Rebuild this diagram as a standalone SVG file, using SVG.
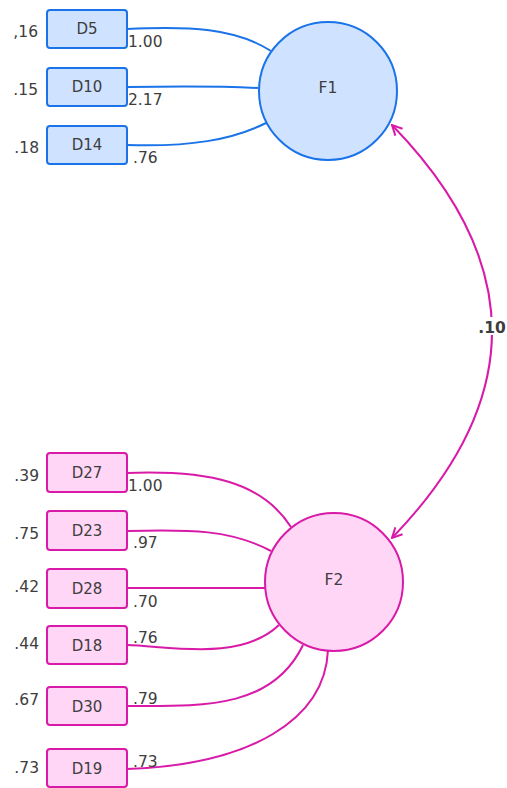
<svg xmlns="http://www.w3.org/2000/svg" width="507" height="788" viewBox="0 0 507 788">
<style>
text{font-family:"DejaVu Sans",Roboto,sans-serif;fill:#3d3d3d}
.lbl{font-size:15.5px}
.nt{font-size:15px;text-anchor:middle}
.ft{font-size:15.5px;text-anchor:middle}
.l{text-anchor:end}
.bb{fill:#cfe2ff;stroke:#1a73e8;stroke-width:2}
.pb{fill:#ffd6f5;stroke:#d91aa8;stroke-width:2}
.bc{fill:none;stroke:#1a73e8;stroke-width:2}
.pc{fill:none;stroke:#d91aa8;stroke-width:2}
</style>
<defs>
<marker id="ah" viewBox="0 0 12 12" refX="11" refY="6" markerWidth="12" markerHeight="12" markerUnits="userSpaceOnUse" orient="auto-start-reverse">
<path d="M1,1 L11,6 L1,11" fill="none" stroke="#d91aa8" stroke-width="2"/>
</marker>
</defs>
<rect width="507" height="788" fill="#fff"/>
<g id="connectors">
<path class="bc" d="M127,29 C190,26 235,28 271,51"/>
<path class="bc" d="M127,87 C180,86 220,86 258,88"/>
<path class="bc" d="M127,145 C190,147 232,140 266,123"/>
<path class="pc" d="M127,473 C210,470 262,482 291,527"/>
<path class="pc" d="M127,531 C190,529 232,530 271,551"/>
<path class="pc" d="M127,588 L265,588"/>
<path class="pc" d="M127,645 C170,646 240,662 279,625"/>
<path class="pc" d="M127,706 C200,706 272,710 303,645"/>
<path class="pc" d="M127,769 C250,765 325,720 328,650"/>
<path class="pc" d="M392,125 Q592,331 392,538" marker-start="url(#ah)" marker-end="url(#ah)"/>
<rect x="476" y="317" width="34" height="18" fill="#fff"/>
<text x="492" y="333" class="lbl" text-anchor="middle" font-weight="bold">.10</text>
<text x="128" y="47" class="lbl">1.00</text>
<text x="128" y="105" class="lbl">2.17</text>
<text x="133" y="163" class="lbl">.76</text>
<text x="128" y="491" class="lbl">1.00</text>
<text x="133" y="548" class="lbl">.97</text>
<text x="133" y="607" class="lbl">.70</text>
<text x="133" y="643" class="lbl">.76</text>
<text x="133" y="704" class="lbl">.79</text>
<text x="133" y="767" class="lbl">.73</text>
</g>
<g id="F1"><circle cx="328" cy="91" r="69" class="bb"/><text x="328" y="93" class="ft">F1</text></g>
<g id="F2"><circle cx="334" cy="582" r="69" class="pb"/><text x="334" y="585" class="ft">F2</text></g>
<g id="D5"><rect x="47" y="10" width="80" height="38" rx="3" class="bb"/><text x="87" y="34" class="nt">D5</text><text x="38" y="37" class="lbl l">,16</text></g>
<g id="D10"><rect x="47" y="68" width="80" height="38" rx="3" class="bb"/><text x="87" y="92" class="nt">D10</text><text x="38" y="95" class="lbl l">.15</text></g>
<g id="D14"><rect x="47" y="126" width="80" height="38" rx="3" class="bb"/><text x="87" y="150" class="nt">D14</text><text x="39" y="153" class="lbl l">.18</text></g>
<g id="D27"><rect x="47" y="453" width="80" height="39" rx="3" class="pb"/><text x="87" y="478" class="nt">D27</text><text x="39" y="481" class="lbl l">.39</text></g>
<g id="D23"><rect x="47" y="511" width="80" height="39" rx="3" class="pb"/><text x="87" y="536" class="nt">D23</text><text x="39" y="539" class="lbl l">.75</text></g>
<g id="D28"><rect x="47" y="569" width="80" height="39" rx="3" class="pb"/><text x="87" y="594" class="nt">D28</text><text x="39" y="592" class="lbl l">.42</text></g>
<g id="D18"><rect x="47" y="626" width="80" height="38" rx="3" class="pb"/><text x="87" y="651" class="nt">D18</text><text x="39" y="649" class="lbl l">.44</text></g>
<g id="D30"><rect x="47" y="687" width="80" height="38" rx="3" class="pb"/><text x="87" y="712" class="nt">D30</text><text x="39" y="705" class="lbl l">.67</text></g>
<g id="D19"><rect x="47" y="749" width="80" height="38" rx="3" class="pb"/><text x="87" y="774" class="nt">D19</text><text x="39" y="773" class="lbl l">.73</text></g>
</svg>
